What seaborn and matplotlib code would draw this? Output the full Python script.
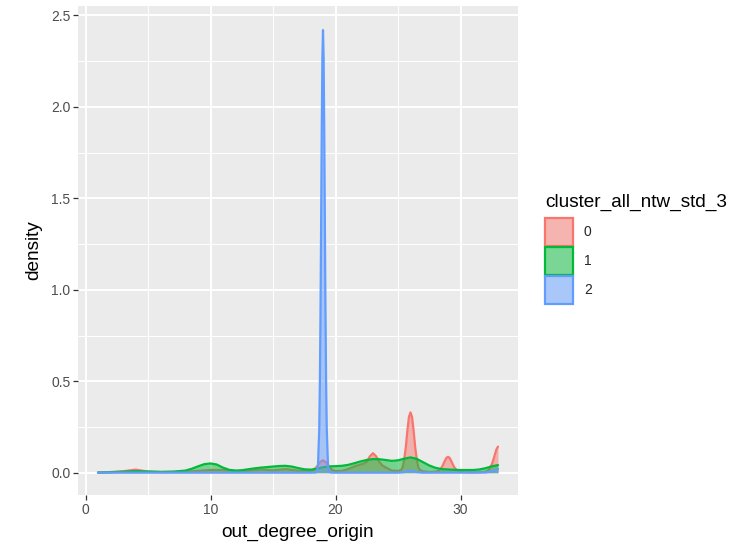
import numpy as np
import pandas as pd
import matplotlib
matplotlib.use("Agg")
import matplotlib.pyplot as plt
from matplotlib.patches import Patch
from matplotlib.ticker import FixedLocator, FormatStrFormatter
import seaborn as sns

# ---- data (density curves) ----
clusters = ["0", "1", "2"]

red_x = [1, 2, 3, 3.5, 4, 4.5, 5, 6, 7, 8, 9, 10, 11, 12, 12.5, 13, 14, 15, 16, 17,
         18, 18.25, 18.5, 18.75, 19, 19.25, 19.5, 19.75, 20, 20.5, 21, 21.5, 22, 22.25,
         22.5, 22.75, 23, 23.25, 23.5, 23.75, 24, 24.5, 25, 25.25, 25.375, 25.5, 25.625,
         25.75, 25.875, 26, 26.125, 26.25, 26.375, 26.5, 26.625, 26.75, 27, 27.5, 28,
         28.25, 28.5, 28.625, 28.75, 28.875, 29, 29.125, 29.25, 29.375, 29.5, 29.75, 30,
         31, 32, 32.25, 32.5, 32.625, 32.75, 32.875, 33]
red_y = [0.002, 0.004, 0.008, 0.013, 0.017, 0.012, 0.006, 0.004, 0.005, 0.006, 0.01,
         0.015, 0.015, 0.01, 0.008, 0.011, 0.018, 0.013, 0.02, 0.011, 0.008, 0.015, 0.033,
         0.058, 0.068, 0.058, 0.033, 0.015, 0.01, 0.01, 0.02, 0.035, 0.045, 0.05, 0.06,
         0.09, 0.107, 0.09, 0.06, 0.04, 0.03, 0.012, 0.01, 0.015, 0.03, 0.075, 0.14, 0.23,
         0.305, 0.33, 0.305, 0.23, 0.14, 0.075, 0.03, 0.015, 0.008, 0.004, 0.006, 0.01,
         0.03, 0.047, 0.066, 0.082, 0.087, 0.082, 0.066, 0.047, 0.03, 0.01, 0.004, 0.002,
         0.005, 0.015, 0.045, 0.07, 0.1, 0.128, 0.143]

green_x = [1, 2, 3, 4, 5, 6, 7, 8, 8.5, 9, 9.5, 10, 10.5, 11, 11.5, 12, 12.5, 13, 13.5,
           14, 14.5, 15, 15.5, 16, 16.5, 17, 17.5, 18, 18.5, 19, 19.5, 20, 20.5, 21, 21.5,
           22, 22.5, 23, 23.5, 24, 24.5, 25, 25.5, 26, 26.5, 27, 27.5, 28, 28.5, 29, 29.5,
           30, 30.5, 31, 31.5, 32, 32.5, 33]
green_y = [0.001, 0.003, 0.006, 0.009, 0.007, 0.005, 0.006, 0.012, 0.022, 0.035, 0.047,
           0.051, 0.045, 0.028, 0.016, 0.012, 0.014, 0.019, 0.024, 0.028, 0.031, 0.034,
           0.037, 0.038, 0.034, 0.026, 0.019, 0.017, 0.022, 0.03, 0.035, 0.036, 0.038,
           0.043, 0.052, 0.062, 0.07, 0.075, 0.074, 0.07, 0.065, 0.068, 0.077, 0.084,
           0.076, 0.058, 0.04, 0.027, 0.02, 0.018, 0.016, 0.015, 0.015, 0.015, 0.018,
           0.025, 0.035, 0.042]

blue_x = [1, 5, 10, 15, 18, 18.4, 18.5, 18.6, 18.7, 18.75, 18.8, 18.85, 18.9, 18.95, 19,
          19.05, 19.1, 19.15, 19.2, 19.25, 19.3, 19.4, 19.5, 19.6, 20, 25, 25.5, 25.75,
          26, 26.25, 26.5, 27, 32, 32.5, 32.75, 33]
blue_y = [0.001, 0.001, 0.001, 0.001, 0.001, 0.002, 0.005, 0.04, 0.24, 0.49, 0.87, 1.36,
          1.87, 2.27, 2.42, 2.27, 1.87, 1.36, 0.87, 0.49, 0.24, 0.04, 0.005, 0.002, 0.001,
          0.001, 0.004, 0.009, 0.012, 0.009, 0.004, 0.001, 0.002, 0.008, 0.014, 0.02]

x_ticks = [0, 10, 20, 30]
y_ticks = [0.0, 0.5, 1.0, 1.5, 2.0, 2.5]

colors = {"0": "#F8766D", "1": "#00BA38", "2": "#619CFF"}

df = pd.concat([
    pd.DataFrame({"out_degree_origin": red_x, "density": red_y, "cluster_all_ntw_std_3": "0"}),
    pd.DataFrame({"out_degree_origin": green_x, "density": green_y, "cluster_all_ntw_std_3": "1"}),
    pd.DataFrame({"out_degree_origin": blue_x, "density": blue_y, "cluster_all_ntw_std_3": "2"}),
], ignore_index=True)

# ---- style ----
sns.set_theme(style="darkgrid")
plt.rcParams["font.family"] = ["Liberation Sans", "DejaVu Sans"]

fig = plt.figure(figsize=(7.4, 5.44), dpi=100)
ax = fig.add_axes([78 / 740, 1 - 495 / 544, 440 / 740, 489 / 544])
ax.set_facecolor("#EBEBEB")

for i, c in enumerate(clusters):
    sub = df[df["cluster_all_ntw_std_3"] == c]
    ax.fill_between(sub["out_degree_origin"], 0, sub["density"], color=colors[c],
                    alpha=0.5, linewidth=0, zorder=3 + 2 * i)
    sns.lineplot(data=sub, x="out_degree_origin", y="density", color=colors[c],
                 linewidth=1.6, ax=ax, zorder=4 + 2 * i, legend=False)

ax.set_xlim(-0.6, 34.6)
ax.set_ylim(-0.1215, 2.5515)

ax.xaxis.set_major_locator(FixedLocator(x_ticks))
ax.xaxis.set_minor_locator(FixedLocator([5, 15, 25]))
ax.yaxis.set_major_locator(FixedLocator(y_ticks))
ax.yaxis.set_minor_locator(FixedLocator([0.25, 0.75, 1.25, 1.75, 2.25]))
ax.yaxis.set_major_formatter(FormatStrFormatter("%.1f"))

ax.grid(which="major", color="white", linewidth=1.4)
ax.grid(which="minor", color="white", linewidth=0.7)
ax.set_axisbelow(True)
for s in ax.spines.values():
    s.set_visible(False)

ax.tick_params(which="major", length=3.5, width=0.9, color="#333333",
               labelcolor="#4D4D4D", labelsize=10, pad=2, bottom=True, left=True)
ax.tick_params(which="minor", length=0)

ax.set_xlabel("out_degree_origin", fontsize=13.7, color="black", labelpad=5)
ax.set_ylabel("density", fontsize=13.7, color="black", labelpad=6)

# legend (keys blended over ggplot's grey95 key background)
def blend(col, bg="#F2F2F2", a=0.5):
    c = np.array(matplotlib.colors.to_rgb(col))
    b = np.array(matplotlib.colors.to_rgb(bg))
    return tuple(a * c + (1 - a) * b)

fig.text(545 / 740, 1 - 202 / 544, "cluster_all_ntw_std_3", fontsize=13.7,
         ha="left", va="center", color="black")
handles = [Patch(facecolor=blend(colors[c]), edgecolor=colors[c], linewidth=1.6)
           for c in clusters]
leg = fig.legend(handles, clusters,
                 loc="upper left", bbox_to_anchor=(545 / 740, 1 - 218 / 544),
                 frameon=False, fontsize=10,
                 handlelength=2.0, handleheight=2.7, labelspacing=0.08,
                 handletextpad=0.8, borderpad=0, borderaxespad=0)

fig.savefig("out.png", dpi=100)
